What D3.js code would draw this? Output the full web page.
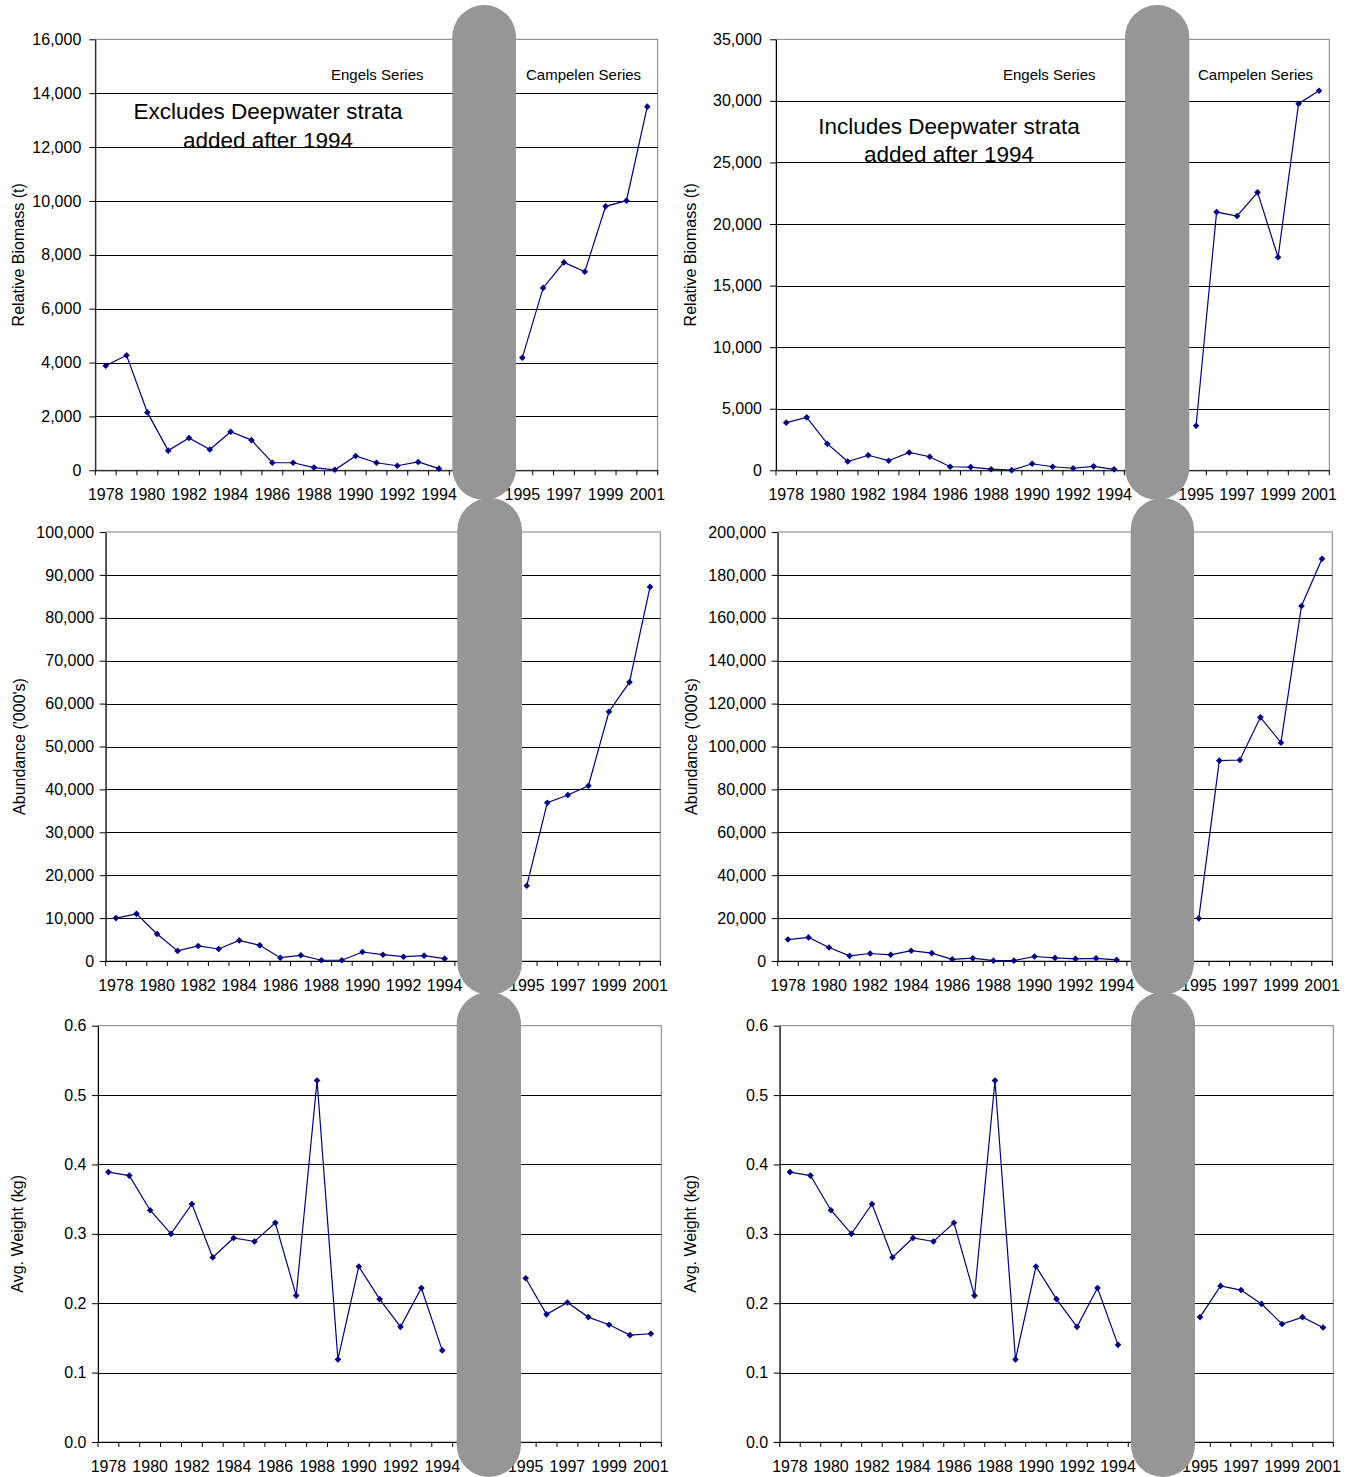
<!DOCTYPE html>
<html>
<head>
<meta charset="utf-8">
<script src="https://cdn.jsdelivr.net/npm/d3@7"></script>
<style>
  body { margin: 0; background: #fff; }
  svg { display: block; font-family: Arial, 'Liberation Sans', sans-serif; }
</style>
</head>
<body>
<svg id="chart" width="1346" height="1477"></svg>
<script>
// categories: Engels years, three hidden slots under the grey bar, Campelen years
const engelsYears = [1978, 1979, 1980, 1981, 1982, 1983, 1984, 1985, 1986, 1987, 1988, 1989, 1990, 1991, 1992, 1993, 1994]
const gapSlots = ['gap1', 'gap2', 'gap3']
const campelenYears = [1995, 1996, 1997, 1998, 1999, 2000, 2001]

// relative biomass (t)
const biomassExclEngels = [3880, 4270, 2150, 730, 1200, 770, 1430, 1120, 280, 280, 100, 20, 530, 280, 170, 310, 60]
const biomassExclCampelen = [4180, 6770, 7720, 7370, 9800, 10010, 13500]
const biomassInclEngels = [3870, 4300, 2160, 710, 1220, 780, 1450, 1100, 290, 260, 90, 10, 530, 290, 165, 320, 80]
const biomassInclCampelen = [3620, 20970, 20650, 22570, 17300, 29770, 30820]

// abundance ('000s)
const abundExclEngels = [10000, 11000, 6300, 2350, 3500, 2800, 4800, 3650, 770, 1330, 170, 170, 2100, 1470, 1000, 1240, 540]
const abundExclCampelen = [17550, 36900, 38700, 40850, 58100, 65000, 87200]
const abundInclEngels = [10000, 11000, 6300, 2400, 3500, 2900, 4800, 3700, 800, 1300, 170, 170, 2100, 1450, 1000, 1250, 500]
const abundInclCampelen = [19900, 93400, 93700, 113600, 101800, 165500, 187500]

// average weight (kg)
const weightExclEngels = [0.389, 0.384, 0.334, 0.300, 0.343, 0.266, 0.294, 0.289, 0.316, 0.211, 0.521, 0.119, 0.253, 0.206, 0.166, 0.222, 0.132]
const weightExclCampelen = [0.236, 0.184, 0.201, 0.180, 0.169, 0.154, 0.156]
const weightInclEngels = [0.389, 0.384, 0.334, 0.300, 0.343, 0.266, 0.294, 0.289, 0.316, 0.211, 0.521, 0.119, 0.253, 0.206, 0.166, 0.222, 0.140]
const weightInclCampelen = [0.180, 0.225, 0.219, 0.199, 0.170, 0.180, 0.165]

// y tick values
const biomassExclTicks = [0, 2000, 4000, 6000, 8000, 10000, 12000, 14000, 16000]
const biomassInclTicks = [0, 5000, 10000, 15000, 20000, 25000, 30000, 35000]
const abundExclTicks = [0, 10000, 20000, 30000, 40000, 50000, 60000, 70000, 80000, 90000, 100000]
const abundInclTicks = [0, 20000, 40000, 60000, 80000, 100000, 120000, 140000, 160000, 180000, 200000]
const weightTicks = [0, 0.1, 0.2, 0.3, 0.4, 0.5, 0.6]

const categories = engelsYears.concat(gapSlots, campelenYears)

// layout of the six panels
const panels = [
  { engels: biomassExclEngels, campelen: biomassExclCampelen, ticks: biomassExclTicks, fmt: ',',
    title: 'Relative Biomass (t)', box: [95.3, 39.3, 657.7, 470.3], titleX: 23.5, gap: 14,
    pill: [452.3, 5, 63.7, 495], note: ['Excludes Deepwater strata', 'added after 1994'], noteAt: [268, 119],
    engelsAt: 331, campelenAt: 526 },
  { engels: biomassInclEngels, campelen: biomassInclCampelen, ticks: biomassInclTicks, fmt: ',',
    title: 'Relative Biomass (t)', box: [776, 39.3, 1329.3, 470.3], titleX: 695.5, gap: 14,
    pill: [1125, 5, 64.3, 495], note: ['Includes Deepwater strata', 'added after 1994'], noteAt: [949, 133.5],
    engelsAt: 1003, campelenAt: 1198 },
  { engels: abundExclEngels, campelen: abundExclCampelen, ticks: abundExclTicks, fmt: ',',
    title: "Abundance ('000's)", box: [105.7, 532, 660.3, 961], titleX: 24.5, gap: 11.5,
    pill: [457.3, 498, 64.7, 497] },
  { engels: abundInclEngels, campelen: abundInclCampelen, ticks: abundInclTicks, fmt: ',',
    title: "Abundance ('000's)", box: [777.7, 532, 1332.3, 961], titleX: 696.5, gap: 11.5,
    pill: [1130.7, 498, 63.3, 497] },
  { engels: weightExclEngels, campelen: weightExclCampelen, ticks: weightTicks, fmt: '.1f',
    title: 'Avg. Weight (kg)', box: [98, 1025.7, 661.3, 1442], titleX: 23, gap: 11.5,
    pill: [456.7, 992, 64.3, 485] },
  { engels: weightInclEngels, campelen: weightInclCampelen, ticks: weightTicks, fmt: '.1f',
    title: 'Avg. Weight (kg)', box: [779.7, 1025.7, 1333.3, 1442], titleX: 695.5, gap: 11.5,
    pill: [1131, 992, 64, 485] }
]

const svg = d3.select('#chart')
const plotLayer = svg.append('g')
const pillLayer = svg.append('g')

function drawPanel (p) {
  let [x0, y0, x1, y1] = p.box
  let x = d3.scaleBand().domain(categories).range([x0, x1])
  let y = d3.scaleLinear().domain([0, p.ticks[p.ticks.length - 1]]).range([y1, y0])
  let g = plotLayer.append('g')

  // plot area border (grey) and gridlines (black)
  g.append('rect')
    .attr('x', x0).attr('y', y0)
    .attr('width', x1 - x0).attr('height', y1 - y0)
    .attr('fill', 'none').attr('stroke', '#808080').attr('stroke-width', 1)
  g.selectAll('line.grid')
    .data(p.ticks.slice(1, -1))
    .enter().append('line')
    .attr('class', 'grid')
    .attr('x1', x0).attr('x2', x1)
    .attr('y1', d => Math.round(y(d)) + 0.5).attr('y2', d => Math.round(y(d)) + 0.5)
    .attr('stroke', '#000').attr('stroke-width', 1)

  // y axis
  let yAxis = g.append('g')
    .attr('transform', `translate(${x0},0)`)
    .call(d3.axisLeft(y).tickValues(p.ticks).tickSize(6).tickSizeOuter(0)
      .tickPadding(p.gap - 6).tickFormat(d3.format(p.fmt)))
  yAxis.selectAll('text').attr('font-size', 16).attr('font-family', 'Arial, Liberation Sans, sans-serif').attr('fill', '#000')
  yAxis.selectAll('line, path').attr('stroke', '#000')

  // x axis: labels on every other category, ticks on the category edges
  let xAxis = g.append('g')
    .attr('transform', `translate(0,${y1})`)
    .call(d3.axisBottom(x).tickSize(0).tickSizeOuter(0).tickPadding(18.5)
      .tickFormat((d, i) => (i % 2 === 0 && !gapSlots.includes(d)) ? d : ''))
  xAxis.selectAll('text').attr('font-size', 16).attr('font-family', 'Arial, Liberation Sans, sans-serif').attr('fill', '#000')
  xAxis.select('path').attr('stroke', '#000')
  xAxis.selectAll('line.edge')
    .data(categories.map(c => x(c)).concat([x1]))
    .enter().append('line')
    .attr('class', 'edge')
    .attr('x1', d => d).attr('x2', d => d)
    .attr('y1', 0).attr('y2', 5)
    .attr('stroke', '#000')

  // y title
  g.append('text')
    .attr('transform', `translate(${p.titleX},${(y0 + y1) / 2}) rotate(-90)`)
    .attr('text-anchor', 'middle')
    .attr('font-size', 16)
    .text(p.title)

  // the two survey series, drawn separately
  let line = d3.line()
    .x(d => x(d.cat) + x.bandwidth() / 2)
    .y(d => y(d.v))
  let series = [
    engelsYears.map((c, i) => ({ cat: c, v: p.engels[i] })),
    campelenYears.map((c, i) => ({ cat: c, v: p.campelen[i] }))
  ]
  series.forEach(function (s) {
    g.append('path')
      .datum(s)
      .attr('d', line)
      .attr('fill', 'none')
      .attr('stroke', '#000080')
      .attr('stroke-width', 1.2)
    g.selectAll(null)
      .data(s)
      .enter().append('path')
      .attr('d', d3.symbol(d3.symbolSquare, 22))
      .attr('transform', d => `translate(${x(d.cat) + x.bandwidth() / 2},${y(d.v)}) rotate(45)`)
      .attr('fill', '#000080')
  })

  // series labels and note (top row only)
  if (p.note) {
    g.append('text').attr('x', p.engelsAt).attr('y', 79.5).attr('font-size', 15).text('Engels Series')
    g.append('text').attr('x', p.campelenAt).attr('y', 79.5).attr('font-size', 15).text('Campelen Series')
    g.selectAll('text.note')
      .data(p.note)
      .enter().append('text')
      .attr('class', 'note')
      .attr('x', p.noteAt[0])
      .attr('y', (d, i) => p.noteAt[1] + i * 28.5)
      .attr('text-anchor', 'middle')
      .attr('font-size', 22.5)
      .text(d => d)
  }

  // grey break bar between the two series
  pillLayer.append('rect')
    .attr('x', p.pill[0]).attr('y', p.pill[1])
    .attr('width', p.pill[2]).attr('height', p.pill[3])
    .attr('rx', p.pill[2] / 2).attr('ry', p.pill[2] / 2)
    .attr('fill', '#969696')
}

panels.forEach(drawPanel)
</script>
</body>
</html>
